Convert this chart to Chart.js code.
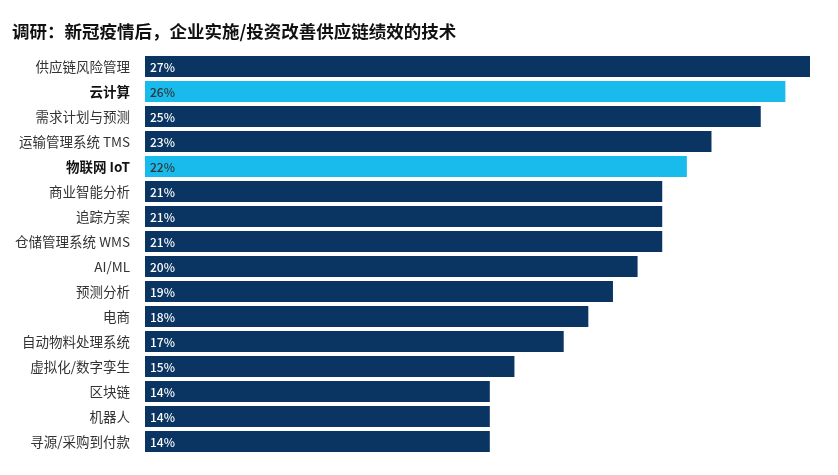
<!DOCTYPE html>
<html><head><meta charset="utf-8">
<script src="https://cdn.jsdelivr.net/npm/chart.js@4/dist/chart.umd.min.js"></script>
<style>html,body{margin:0;padding:0;background:#fff}#wrap{width:838px;height:475px}</style>
</head><body><div id="wrap"><canvas id="c" width="838" height="475"></canvas></div>
<script>
const titleText = "调研：新冠疫情后，企业实施/投资改善供应链绩效的技术";
const categories = ["供应链风险管理","云计算","需求计划与预测","运输管理系统 TMS","物联网 IoT","商业智能分析","追踪方案","仓储管理系统 WMS","AI/ML","预测分析","电商","自动物料处理系统","虚拟化/数字孪生","区块链","机器人","寻源/采购到付款"];
const values = [27,26,25,23,22,21,21,21,20,19,18,17,15,14,14,14];
const highlighted = [false,true,false,false,true,false,false,false,false,false,false,false,false,false,false,false];
const NAVY = "#0a3461", LIGHT = "#18bbec";
const FONT = "'Noto Sans CJK SC','Noto Sans',sans-serif";

const valueLabels = {
  id: 'valueLabels',
  afterDatasetsDraw(chart) {
    const ctx = chart.ctx;
    const meta = chart.getDatasetMeta(0);
    ctx.save();
    ctx.font = "500 12px " + FONT;
    ctx.textBaseline = "middle";
    ctx.textAlign = "left";
    meta.data.forEach((bar, i) => {
      ctx.fillStyle = highlighted[i] ? "#333333" : "#ffffff";
      ctx.fillText(values[i] + "%", bar.base + 5, bar.y + 1);
    });
    ctx.restore();
  }
};

new Chart(document.getElementById('c'), {
  type: 'bar',
  data: {
    labels: categories,
    datasets: [{
      data: values,
      backgroundColor: highlighted.map(h => h ? LIGHT : NAVY),
      borderWidth: 0,
      categoryPercentage: 0.84,
      barPercentage: 1.0
    }]
  },
  options: {
    indexAxis: 'y',
    responsive: false,
    animation: false,
    layout: { padding: { left: 12, right: 28, top: 0, bottom: 21 } },
    plugins: {
      legend: { display: false },
      tooltip: { enabled: false },
      title: {
        display: true, text: titleText, align: 'start', color: '#111',
        font: { family: FONT, size: 17.5, weight: 'bold' },
        padding: { top: 21, bottom: 12 }
      }
    },
    scales: {
      x: { display: false, min: 0, max: 27 },
      y: {
        grid: { display: false }, border: { display: false },
        afterFit(scale) { scale.width = 133; },
        ticks: {
          padding: 7,
          color: (c) => highlighted[c.index] ? '#111' : '#333',
          font: (c) => ({ family: FONT, size: 13.5, weight: highlighted[c.index] ? 'bold' : 'normal' })
        }
      }
    }
  },
  plugins: [valueLabels]
});
</script></body></html>
